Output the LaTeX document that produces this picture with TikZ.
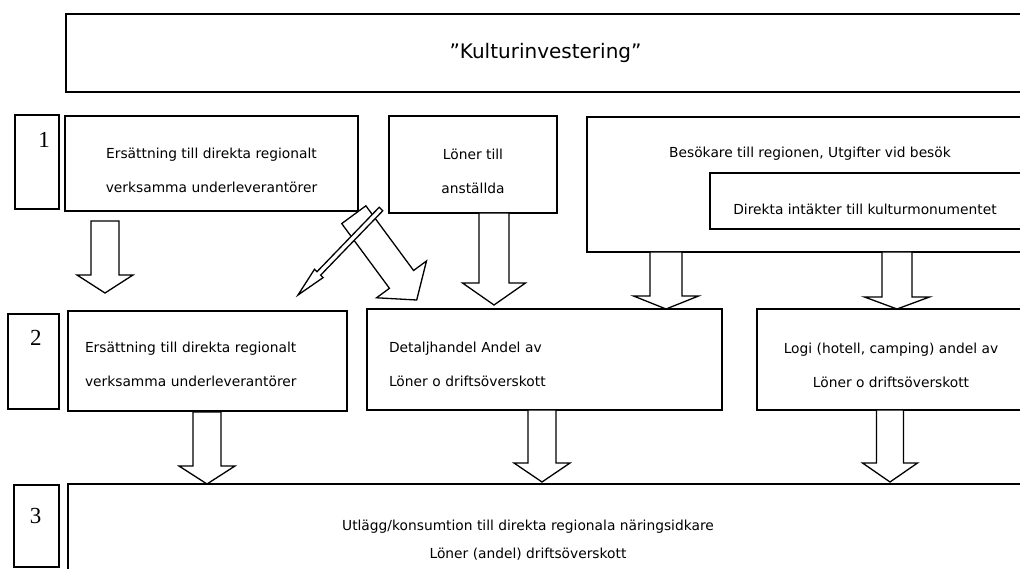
\documentclass[tikz,border=0pt]{standalone}
\usepackage{fontspec}
\usetikzlibrary{calc}
\newfontfamily\boxfont{DejaVu Sans}
\newfontfamily\numfont{Liberation Serif}

\tikzset{
  box/.style = {draw, line width=1.3pt, fill=white, inner sep=0pt,
    font=\boxfont\fontsize{13.8}{34}\selectfont, align=center},
  txt/.style = {inner sep=0pt, font=\boxfont\fontsize{13.8}{34}\selectfont, align=center},
  numbox/.style = {draw, line width=1.3pt, inner sep=0pt},
  digit/.style = {anchor=north, inner sep=0pt, font=\numfont\fontsize{23}{23}\selectfont},
  arrowbody/.style = {draw, line width=1.3pt, fill=white, line join=miter},
}

% block arrow: tail, tip, half shaft, half head, head length
\newcommand{\blockarrow}[5]{%
  \path ($(#2)!#5!(#1)$) coordinate (hb);
  \draw [arrowbody] ($(#1)!#3!90:(#2)$) -- ($(hb)!#3!90:(#2)$) -- ($(hb)!#4!90:(#2)$)
    -- (#2) -- ($(hb)!#4!-90:(#2)$) -- ($(hb)!#3!-90:(#2)$) -- ($(#1)!#3!-90:(#2)$) -- cycle;
}

\begin{document}
\begin{tikzpicture}[x=1pt, y=-1pt]
\useasboundingbox (0,0) rectangle (1020,569);
\clip (0,0) rectangle (1020,569);

% top
\node [box, minimum width=959pt, minimum height=78pt, font=\boxfont\fontsize{20}{24}\selectfont] (kultur) at (545.5,53) {”Kulturinvestering”};

% level 1
\node [numbox, minimum width=44pt, minimum height=94pt] (lvl1) at (37,162) {};
\node [digit] (dig1) at (44,132) {1};
\node [box, minimum width=293pt, minimum height=95pt, text height=58pt] (lev1) at (211.5,163.5) {Ersättning till direkta regionalt\\verksamma underleverantörer};
\node [box, minimum width=168pt, minimum height=97pt, text height=58.5pt] (lon1) at (473,164.5) {Löner till\\anställda};
\node [box, minimum width=438pt, minimum height=135pt] (besok) at (806,184.5) {};
\node [txt] (besoktxt) at (810,154) {Besökare till regionen, Utgifter vid besök};
\node [box, minimum width=315pt, minimum height=56pt] (intakt) at (867.5,201) {};
\node [txt] (intakttxt) at (865,209) {Direkta intäkter till kulturmonumentet};

% level 2
\node [numbox, minimum width=51pt, minimum height=95pt] (lvl2) at (33.5,361.5) {};
\node [digit] (dig2) at (36,330) {2};
\node [box, minimum width=279pt, minimum height=100pt, align=left, inner xsep=17pt, text width=245pt, text height=17.5pt] (lev2) at (207.5,361) {Ersättning till direkta regionalt\\verksamma underleverantörer};
\node [box, minimum width=355pt, minimum height=101pt, align=left, inner xsep=22pt, text width=311pt, text height=20.5pt] (detalj) at (544.5,359.5) {Detaljhandel Andel av\\Löner o driftsöverskott};
\node [box, minimum width=268pt, minimum height=101pt, text height=56.5pt] (logi) at (891,359.5) {Logi (hotell, camping) andel av\\Löner o driftsöverskott};

% level 3
\node [numbox, minimum width=45pt, minimum height=82pt] (lvl3) at (36.5,526) {};
\node [digit] (dig3) at (35.5,508) {3};
\node [box, minimum width=962pt, minimum height=116pt] (utlagg) at (549,542) {};
\node [txt, font=\boxfont\fontsize{13.8}{28}\selectfont] (utlaggtxt) at (528,540) {Utlägg/konsumtion till direkta regionala näringsidkare\\Löner (andel) driftsöverskott};

% arrow ends
\coordinate (s1) at (105,221);   \coordinate (e1) at (105,293);
\coordinate (s2) at (494,213);   \coordinate (e2) at (494,305);
\coordinate (s3) at (666,252);   \coordinate (e3) at (666,309);
\coordinate (s4) at (897,252);   \coordinate (e4) at (897,309);
\coordinate (s5) at (207,412);   \coordinate (e5) at (207,484);
\coordinate (s6) at (542,410);   \coordinate (e6) at (542,482);
\coordinate (s7) at (890,410);   \coordinate (e7) at (890,482);
\coordinate (s8) at (353.8,214.7); \coordinate (e8) at (416.7,300);
\coordinate (s9) at (381,209);   \coordinate (e9) at (298,295);

\blockarrow{s1}{e1}{14pt}{28pt}{18pt}
\blockarrow{s2}{e2}{15pt}{31.5pt}{22pt}
\blockarrow{s3}{e3}{16pt}{32.5pt}{13pt}
\blockarrow{s4}{e4}{15pt}{32.5pt}{12pt}
\blockarrow{s5}{e5}{14pt}{28pt}{18pt}
\blockarrow{s6}{e6}{14pt}{28pt}{19pt}
\blockarrow{s7}{e7}{13.5pt}{27.5pt}{19pt}
\blockarrow{s8}{e8}{15pt}{31pt}{25.6pt}
\blockarrow{s9}{e9}{2.5pt}{6pt}{30pt}
\end{tikzpicture}
\end{document}
